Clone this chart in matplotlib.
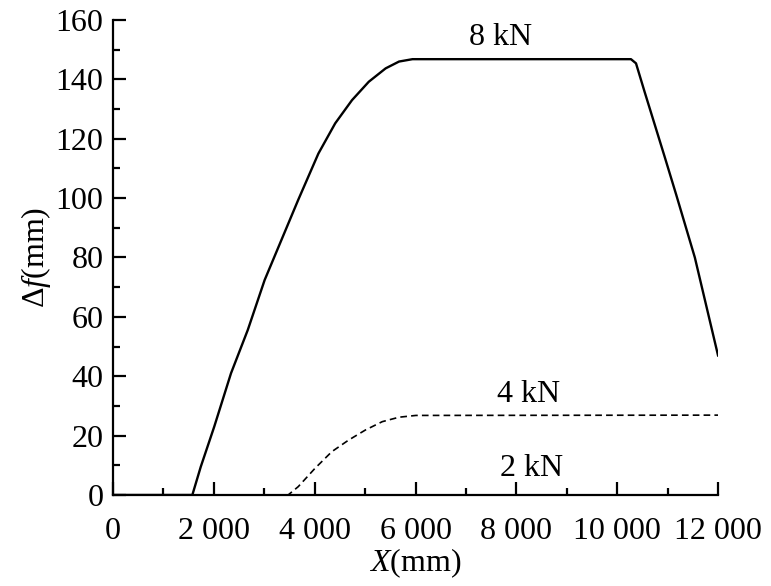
import matplotlib
matplotlib.use("Agg")
import matplotlib.pyplot as plt
from matplotlib.ticker import MultipleLocator, FuncFormatter

plt.rcParams['font.family'] = ['Liberation Serif', 'DejaVu Serif']
plt.rcParams['mathtext.fontset'] = 'custom'
plt.rcParams['mathtext.rm'] = 'Liberation Serif'
plt.rcParams['mathtext.it'] = 'Liberation Serif:italic'

# 8 kN curve
x8 = [0, 1573, 1740, 2007, 2340, 2673, 3007, 3340, 3673, 4073, 4407, 4740,
      5073, 5407, 5673, 5940, 10273, 10373, 10540, 10740, 10940, 11173, 11540, 12000]
y8 = [0, 0, 9.5, 23, 41, 55.6, 72.4, 85.9, 99.4, 115, 125.2, 133,
      139.2, 143.7, 146, 146.8, 146.8, 145.4, 136, 125, 114, 101, 80, 47]
# 4 kN curve
x4 = [0, 3473, 3673, 4007, 4340, 4673, 5007, 5340, 5673, 6007, 12000]
y4 = [0, 0, 2.8, 9, 14.6, 18.5, 21.9, 24.7, 26.2, 26.8, 26.9]
# 2 kN curve
x2 = [0, 12000]
y2 = [0, 0]

labels = ['8 kN', '4 kN', '2 kN']
label_x = [7680, 8240, 8300]
label_y = [154, 34, 9]

FS = 23

fig = plt.figure(figsize=(7.71, 5.86), dpi=100)
ax = fig.add_axes([0.1466, 0.1553, 0.7847, 0.8106])

ax.plot(x2, y2, color='black', lw=1.2, zorder=1)
ax.plot(x4, y4, color='black', lw=1.2, linestyle=(0, (4, 2.5)), zorder=3)
ax.plot(x8, y8, color='black', lw=1.7, zorder=3)

for t, lx, ly in zip(labels, label_x, label_y):
    ax.text(lx, ly, t, ha='center', va='center', fontsize=FS)

ax.set_xlim(0, 12000)
ax.set_ylim(0, 160)
ax.xaxis.set_major_locator(MultipleLocator(2000))
ax.xaxis.set_minor_locator(MultipleLocator(1000))
ax.yaxis.set_major_locator(MultipleLocator(20))
ax.yaxis.set_minor_locator(MultipleLocator(10))

def fmt_x(v, pos):
    v = int(round(v))
    if v == 0:
        return '0'
    return f"{v:,}".replace(',', ' ')

ax.xaxis.set_major_formatter(FuncFormatter(fmt_x))

for s in ['top', 'right']:
    ax.spines[s].set_visible(False)
for s in ['left', 'bottom']:
    ax.spines[s].set_linewidth(1.6)

ax.tick_params(which='major', direction='in', length=9.4, width=1.6, labelsize=FS)
ax.tick_params(which='minor', direction='in', length=5, width=1.6)
ax.tick_params(axis='x', which='major', pad=16)
ax.tick_params(axis='y', which='major', pad=7)

ax.set_xlabel(r'$X$(mm)', fontsize=FS, labelpad=0)
ax.set_ylabel(r'$\Delta f$(mm)', fontsize=FS, labelpad=2)

fig.savefig('out.png', dpi=100)
